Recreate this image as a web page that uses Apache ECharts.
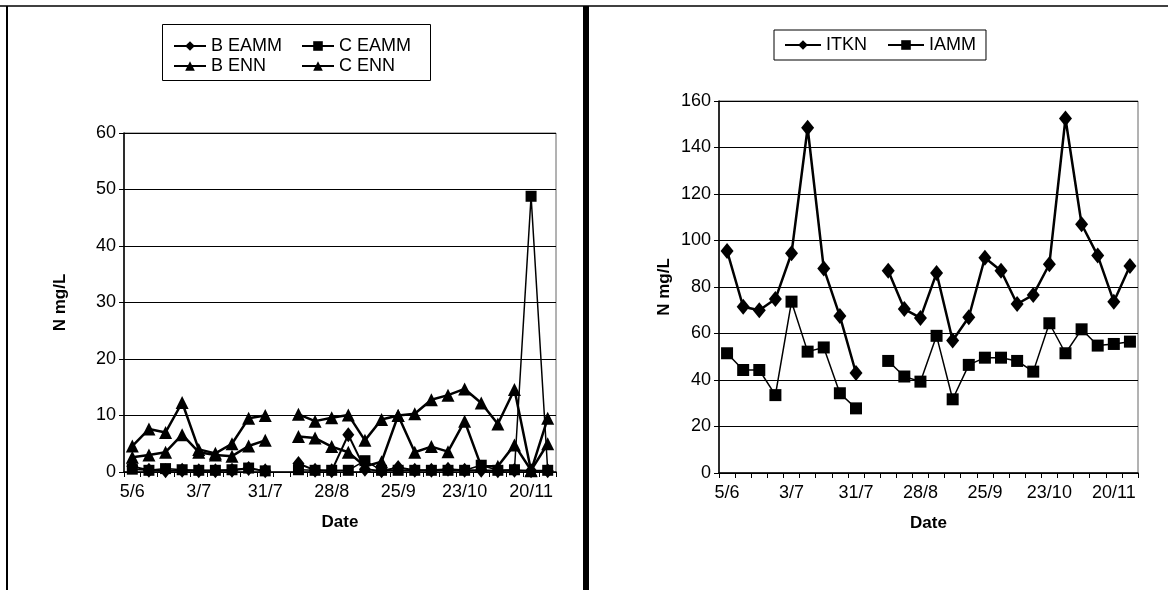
<!DOCTYPE html>
<html>
<head>
<meta charset="utf-8">
<script src="https://cdn.jsdelivr.net/npm/echarts@6/dist/echarts.min.js"></script>
<style>
html,body{margin:0;padding:0;background:#fff;}
#c{width:1168px;height:590px;}
</style>
</head>
<body>
<div id="c"></div>
<script>
const dates = ['5/6','12/6','19/6','26/6','3/7','10/7','17/7','24/7','31/7','7/8','14/8','21/8','28/8','4/9','11/9','18/9','25/9','2/10','9/10','16/10','23/10','30/10','6/11','13/11','20/11','27/11'];
const leftTicks = [0,10,20,30,40,50,60];
const rightTicks = [0,20,40,60,80,100,120,140,160];

const bEAMM = [1.0,0.3,0.2,0.3,0.2,0.2,0.3,0.6,0.2,null,1.5,0.3,0.2,6.6,0.5,0.2,0.8,0.3,0.3,0.5,0.3,0.3,0.2,0.3,0.2,0.2];
const cEAMM = [0.5,0.3,0.6,0.4,0.3,0.3,0.4,0.7,0.2,null,0.4,0.3,0.3,0.3,2.0,0.3,0.3,0.3,0.3,0.3,0.3,1.2,0.3,0.4,48.8,0.3];
const bENN  = [4.6,7.6,7.0,12.3,4.0,3.3,5.0,9.5,10.0,null,10.2,9.0,9.6,10.1,5.6,9.3,10.0,10.3,12.8,13.6,14.7,12.2,8.5,14.6,0.2,9.5];
const cENN  = [2.6,3.0,3.5,6.6,3.5,3.0,2.8,4.6,5.6,null,6.3,6.0,4.5,3.5,1.0,1.8,10.0,3.5,4.5,3.6,9.0,1.0,1.0,4.8,0.3,5.0];

const iTKN = [95.5,71.5,70.0,74.8,94.5,148.5,88.0,67.5,43.0,null,87.0,70.5,66.7,86.0,57.0,67.0,92.6,87.0,72.7,76.6,89.8,152.5,107.0,93.5,73.7,89.0];
const iAMM = [51.5,44.3,44.3,33.5,73.7,52.2,54.0,34.3,27.8,null,48.2,41.5,39.3,59.0,31.7,46.5,49.6,49.6,48.2,43.6,64.4,51.5,61.8,54.8,55.5,56.5];

const FONT = "'Liberation Sans', Arial, sans-serif";
const chart = echarts.init(document.getElementById('c'), null, {renderer:'canvas'});

function xAxisCfg(gridIndex){
  return {
    type:'category', gridIndex, data:dates, boundaryGap:true,
    name:'Date', nameLocation:'middle', nameGap:42,
    nameTextStyle:{fontFamily:FONT,fontSize:17,fontWeight:'bold',color:'#000'},
    axisLine:{show:true,lineStyle:{color:'#000',width:1.5}},
    axisTick:{show:true,interval:0,length:5,inside:false,lineStyle:{color:'#000'}},
    axisLabel:{interval:3,margin:11,fontFamily:FONT,fontSize:18,color:'#000'},
    splitLine:{show:false}
  };
}
function yAxisCfg(gridIndex, ticks, gap){
  return {
    type:'value', gridIndex, min:ticks[0], max:ticks[ticks.length-1], interval:ticks[1]-ticks[0],
    name:'N mg/L', nameLocation:'middle', nameGap:gap, nameRotate:90,
    nameTextStyle:{fontFamily:FONT,fontSize:17,fontWeight:'bold',color:'#000'},
    axisLine:{show:true,lineStyle:{color:'#000',width:1.5}},
    axisTick:{show:true,length:5,lineStyle:{color:'#000'}},
    axisLabel:{margin:8,fontFamily:FONT,fontSize:18,color:'#000'},
    splitLine:{show:true,lineStyle:{color:'#000',width:1}}
  };
}
function lineSeries(name, data, xi, yi, symbol, size, width){
  return {
    name, type:'line', data, xAxisIndex:xi, yAxisIndex:yi,
    symbol, symbolSize:size, showSymbol:true, showAllSymbol:true, connectNulls:false,
    lineStyle:{color:'#000',width}, itemStyle:{color:'#000'},
    emphasis:{disabled:true}, animation:false
  };
}
const legendText = {fontFamily:FONT,fontSize:18,color:'#000'};

chart.setOption({
  animation:false,
  backgroundColor:'#fff',
  grid:[
    {left:124, top:133, width:432, height:339, show:true, borderColor:'#666', borderWidth:1, containLabel:false},
    {left:719, top:101, width:419, height:372, show:true, borderColor:'#666', borderWidth:1, containLabel:false}
  ],
  xAxis:[xAxisCfg(0), xAxisCfg(1)],
  yAxis:[yAxisCfg(0,leftTicks,55), yAxisCfg(1,rightTicks,46)],
  legend:[
    {orient:'vertical', left:168, top:32, itemWidth:32, itemHeight:12, itemGap:2,
     data:['B EAMM','B ENN'], textStyle:legendText, selectedMode:false},
    {orient:'vertical', left:296, top:32, itemWidth:32, itemHeight:12, itemGap:2,
     data:['C EAMM','C ENN'], textStyle:legendText, selectedMode:false},
    {orient:'horizontal', left:774, top:30, itemWidth:36, itemHeight:12, itemGap:20,
     data:['ITKN','IAMM'], textStyle:legendText, selectedMode:false,
     borderColor:'#000', borderWidth:1, padding:[6,10,6,10]}
  ],
  graphic:[
    {type:'rect', shape:{x:162.5,y:24.5,width:268,height:56}, style:{fill:'none',stroke:'#000',lineWidth:1}, silent:true},
    {type:'line', shape:{x1:0,y1:6,x2:1168,y2:6}, style:{stroke:'#000',lineWidth:1.5}, silent:true},
    {type:'line', shape:{x1:7,y1:6,x2:7,y2:590}, style:{stroke:'#000',lineWidth:2}, silent:true},
    {type:'rect', shape:{x:583,y:6,width:6,height:584}, style:{fill:'#000'}, silent:true}
  ],
  series:[
    lineSeries('B EAMM', bEAMM, 0,0,'diamond',[12,15],2),
    lineSeries('C EAMM', cEAMM, 0,0,'rect',11,1.5),
    lineSeries('B ENN', bENN, 0,0,'triangle',13,2.5),
    lineSeries('C ENN', cENN, 0,0,'triangle',13,2.5),
    lineSeries('ITKN', iTKN, 1,1,'diamond',[13,16],2.5),
    lineSeries('IAMM', iAMM, 1,1,'rect',12,1.5)
  ]
});
</script>
</body>
</html>
